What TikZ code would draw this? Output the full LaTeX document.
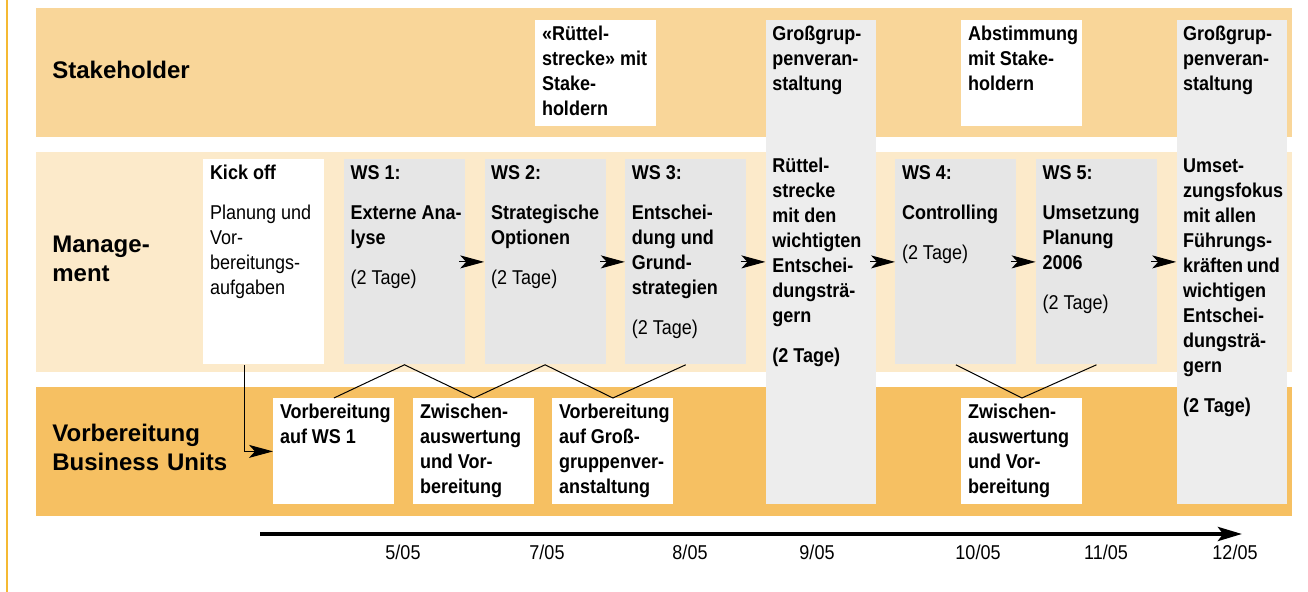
\documentclass[tikz,border=0pt]{standalone}
\usepackage{fontspec}
\setmainfont{Liberation Sans}
\newfontfamily\condfont[FakeStretch=0.9]{Liberation Sans}
\usepackage{tikz}
\usetikzlibrary{positioning,calc,arrows.meta}

\definecolor{stakeband}{RGB}{249,214,153}
\definecolor{mgmtband}{RGB}{252,234,202}
\definecolor{buband}{RGB}{246,192,98}
\definecolor{boxgray}{RGB}{230,230,230}
\definecolor{grossgray}{RGB}{237,237,237}
\definecolor{leftline}{RGB}{245,185,50}

\newlength\Textwd
\setlength\Textwd{53.9pt}
\newcommand\Textbox[3][\Textwd]{%
  \parbox[t][#2][t]{#1}{\raggedright\hfuzz=10pt\rule{0pt}{8.75pt}#3}}

\tikzset{
  box/.style={
    rectangle,
    inner xsep=3.3pt,
    inner ysep=1.5pt,
    font=\condfont\fontsize{10}{12.5}\selectfont,
  },
  wbox/.style={box, fill=white},
  gbox/.style={box, fill=boxgray},
  grossbox/.style={box, fill=grossgray},
}

\begin{document}
\begin{tikzpicture}[x=0.5pt,y=-0.5pt,
    rowlabel/.style={anchor=base west, inner sep=0pt, text width=100pt, align=left,
      font=\bfseries\fontsize{12}{14.5}\selectfont},
    datelabel/.style={anchor=base, inner sep=0pt, font=\condfont\fontsize{10}{12}\selectfont},
    flow/.style={-{Stealth[length=12pt,width=6.5pt,inset=3pt]}, line width=0.5pt},
    zigzag/.style={line width=0.5pt},
    timeline/.style={-{Stealth[length=12pt,width=7pt,inset=2.5pt]}, line width=2pt}
  ]
  \useasboundingbox (0,0) rectangle (1308,592);

  % bands
  \draw[leftline, line width=1pt] (6.5,0) -- (6.5,592);
  \fill[stakeband] (36,8) rectangle (1292,137);
  \fill[mgmtband] (36,152) rectangle (1292,372);
  \fill[buband] (36,387) rectangle (1292,516);

  \node[rowlabel] (lstake) at (52,79) {Stakeholder};
  \node[rowlabel] (lmgmt) at (52,253) {Manage-\\ment};
  \node[rowlabel] (lbu) at (52,442) {Vorbereitung\\Business~Units};

  % Management
  \node[wbox, anchor=north west] (kickoff) at (203,159) {\Textbox{99.5pt}{%
      \textbf{Kick~off}\\[7.5pt] Planung~und\\Vor-\\bereitungs-\\aufgaben}};
  \node[gbox, right=9.4pt of kickoff] (ws1) {\Textbox{99.5pt}{%
      \bfseries WS~1:\\[7.5pt] \mbox{Externe~Ana-}\\lyse\\[7.5pt]\mdseries (2~Tage)}};
  \node[gbox, right=9.4pt of ws1] (ws2) {\Textbox{99.5pt}{%
      \bfseries WS~2:\\[7.5pt] Strategische\\Optionen\\[7.5pt]\mdseries (2~Tage)}};
  \node[gbox, right=9.4pt of ws2] (ws3) {\Textbox{99.5pt}{%
      \bfseries WS~3:\\[7.5pt] Entschei-\\dung~und\\Grund-\\strategien\\[7.5pt]\mdseries (2~Tage)}};
  \node[grossbox, right=9.4pt of ws3] (gross1) {\Textbox[48.4pt]{239pt}{%
      \bfseries Großgrup-\\penveran-\\staltung\\[28.5pt] Rüttel-\\strecke\\mit~den\\wichtigten\\Entschei-\\dungsträ-\\gern\\[7.5pt] (2~Tage)}};
  \node[gbox, right=9.4pt of gross1] (ws4) {\Textbox{99.5pt}{%
      \bfseries WS~4:\\[7.5pt] Controlling\\[7.5pt]\mdseries (2~Tage)}};
  \node[gbox, right=9.4pt of ws4] (ws5) {\Textbox{99.5pt}{%
      \bfseries WS~5:\\[7.5pt] Umsetzung\\Planung\\2006\\[7.5pt]\mdseries (2~Tage)}};
  \node[grossbox, right=9.4pt of ws5] (gross2) {\Textbox[48.4pt]{239pt}{%
      \bfseries Großgrup-\\penveran-\\staltung\\[28.5pt] Umset-\\zungsfokus\\mit~allen\\Führungs-\\kräften~und\\wichtigen\\Entschei-\\dungsträ-\\gern\\[7.5pt] (2~Tage)}};

  % Stakeholder
  \node[wbox, anchor=north west] (ruettel) at (535,20) {\Textbox{50pt}{%
      \bfseries «Rüttel-\\strecke»~mit\\Stake-\\holdern}};
  \node[wbox, anchor=north west] (abstimm) at (961,20) {\Textbox{50pt}{%
      \bfseries Abstimmung\\mit~Stake-\\holdern}};

  % Business Units
  \node[wbox, anchor=north west] (vorb1) at (273,398) {\Textbox{50pt}{%
      \bfseries Vorbereitung\\auf~WS~1}};
  \node[wbox, anchor=north west] (zw1) at (413,398) {\Textbox{50pt}{%
      \bfseries Zwischen-\\auswertung\\und~Vor-\\bereitung}};
  \node[wbox, anchor=north west] (vorbg) at (552,398) {\Textbox{50pt}{%
      \bfseries Vorbereitung\\auf~Groß-\\gruppenver-\\anstaltung}};
  \node[wbox, anchor=north west] (zw2) at (961,398) {\Textbox{50pt}{%
      \bfseries Zwischen-\\auswertung\\und~Vor-\\bereitung}};

  % connectors
  \draw[zigzag] (vorb1.north) -- (ws1.south) -- (zw1.north) -- (ws2.south)
    -- (vorbg.north) -- (ws3.south);
  \draw[zigzag] (ws4.south) -- (zw2.north) -- (ws5.south);
  \draw[flow] ($(kickoff.south)+(-9.75pt,0)$) |- (vorb1.west);

  \draw[flow] ($(ws1.east)+(-3pt,0)$) -- (ws2.west);
  \draw[flow] ($(ws2.east)+(-3pt,0)$) -- (ws3.west);
  \draw[flow] ($(ws3.east)+(-3pt,0)$) -- (gross1.west);
  \draw[flow] ($(gross1.east)+(-3pt,0)$) -- (ws4.west);
  \draw[flow] ($(ws4.east)+(-3pt,0)$) -- (ws5.west);
  \draw[flow] ($(ws5.east)+(-3pt,0)$) -- (gross2.west);

  % time line
  \coordinate (tstart) at (260,534);
  \coordinate (tend) at (1242,534);
  \draw[timeline] (tstart) -- (tend);

  \node[datelabel] (d0505) at (403,560) {5/05};
  \node[datelabel] (d0705) at (547,560) {7/05};
  \node[datelabel] (d0805) at (690,560) {8/05};
  \node[datelabel] (d0905) at (817,560) {9/05};
  \node[datelabel] (d1005) at (978,560) {10/05};
  \node[datelabel] (d1105) at (1106,560) {11/05};
  \node[datelabel] (d1205) at (1235,560) {12/05};
\end{tikzpicture}
\end{document}
